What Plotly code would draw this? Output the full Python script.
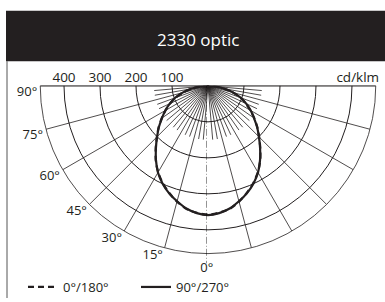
import plotly.graph_objects as go

# ---- data ----
gamma = [0, 5, 10, 15, 20, 25, 30, 35, 40, 45, 50, 55, 60, 65, 70, 75, 80, 85, 90]
c90_270 = [359, 355, 346, 332, 317, 299, 278, 252, 225, 200, 178, 156, 137, 117, 97, 73, 47, 23, 0]
c0_180 = [358, 354, 347, 333, 316, 298, 277, 253, 226, 201, 179, 157, 136, 116, 96, 72, 46, 23, 0]
ring_values = [100, 200, 300, 400]
ring_labels = ["100", "200", "300", "400"]
angle_ticks = [-90, -75, -60, -45, -30, -15, 0]
angle_labels = ["90°", "75°", "60°", "45°", "30°", "15°", "0°"]
title_text = "2330 optic"
unit_text = "cd/klm"

W, H = 385, 302
INK = "#231f20"
FONT = "Open Sans"
R_MAX = 466          # outer ring of the diagram
R_MAX2 = 500         # range of the overlay used for outside labels
PX_PER = 170 / R_MAX
CX, CY = 208, 87     # centre in pixels


def full(vals):
    th = [-g for g in reversed(gamma)] + gamma[1:]
    rr = list(reversed(vals)) + vals[1:]
    return th, rr


fig = go.Figure()

# spokes: 15 deg to the outer ring, 5 deg near the centre
sp_t, sp_r = [], []
for a in range(-90, 91, 5):
    if a == 0:
        continue
    sp_t += [a, a, None]
    sp_r += [0, R_MAX if a % 15 == 0 else 150, None]
fig.add_trace(go.Scatterpolar(theta=sp_t, r=sp_r, mode="lines",
                              line=dict(color=INK, width=0.8),
                              showlegend=False, hoverinfo="skip"))

# dash-dot centre axis (on overlay so it can pass the outer ring)
fig.add_trace(go.Scatterpolar(theta=[180, 0, 0], r=[14, 0, 493], mode="lines", subplot="polar2",
                              line=dict(color="#000000", width=0.9, dash="7px,2px,1px,2px"),
                              showlegend=False, hoverinfo="skip", cliponaxis=False))

th, rr = full(c0_180)
fig.add_trace(go.Scatterpolar(theta=th, r=rr, mode="lines", name="0°/180°",
                              line=dict(color=INK, width=2.2, dash="6px,4px", shape="spline", smoothing=0.6)))
th, rr = full(c90_270)
fig.add_trace(go.Scatterpolar(theta=th, r=rr, mode="lines", name="90°/270°",
                              line=dict(color=INK, width=2.2, shape="spline", smoothing=0.6)))

# ring labels
fig.add_trace(go.Scatterpolar(theta=[-90] * len(ring_values), r=ring_values, mode="text",
                              text=ring_labels, textposition="top center",
                              textfont=dict(family=FONT, size=13.5, color=INK),
                              showlegend=False, hoverinfo="skip", cliponaxis=False))
# unit label
fig.add_trace(go.Scatterpolar(theta=[90], r=[416], mode="text", text=[unit_text],
                              textposition="top center",
                              textfont=dict(family=FONT, size=13.5, color=INK),
                              showlegend=False, hoverinfo="skip", cliponaxis=False))
# angle labels (overlay subplot with larger range)
lab_r = [490 if a == 0 else 471 for a in angle_ticks]
lab_pos = ["bottom center" if a == 0 else "bottom left" for a in angle_ticks]
fig.add_trace(go.Scatterpolar(theta=angle_ticks, r=lab_r, mode="text", text=angle_labels,
                              textposition=lab_pos, subplot="polar2",
                              textfont=dict(family=FONT, size=13, color=INK),
                              showlegend=False, hoverinfo="skip", cliponaxis=False))

R1 = R_MAX * PX_PER
R2 = R_MAX2 * PX_PER

fig.update_layout(
    width=W, height=H,
    margin=dict(l=0, r=0, t=0, b=0),
    paper_bgcolor="white",
    font=dict(family=FONT, size=13, color=INK),
    polar=dict(
        domain=dict(x=[(CX - R1) / W, (CX + R1) / W], y=[1 - (CY + R1) / H, 1 - CY / H]),
        sector=[180, 360],
        bgcolor="white",
        radialaxis=dict(range=[0, R_MAX], tickvals=ring_values, showticklabels=False,
                        ticks="", showline=False, gridcolor=INK, gridwidth=0.8),
        angularaxis=dict(rotation=-90, direction="counterclockwise", showgrid=False,
                         showticklabels=False, ticks="",
                         showline=True, linecolor=INK, linewidth=0.8),
    ),
    polar2=dict(
        domain=dict(x=[(CX - R2) / W, CX / W], y=[1 - (CY + R2) / H, 1 - CY / H]),
        sector=[180, 270],
        bgcolor="rgba(0,0,0,0)",
        radialaxis=dict(range=[0, R_MAX2], visible=False, showgrid=False),
        angularaxis=dict(rotation=-90, direction="counterclockwise", visible=False,
                         showgrid=False, showline=False),
    ),
    showlegend=True,
    legend=dict(orientation="h", x=28 / W - 0.013, y=-0.015, xanchor="left", yanchor="bottom",
                font=dict(family=FONT, size=13, color=INK), bgcolor="rgba(0,0,0,0)",
                itemwidth=30, entrywidth=68, entrywidthmode="pixels"),
    shapes=[
        dict(type="rect", xref="paper", yref="paper", x0=6 / W, x1=1, y0=1 - 62 / H, y1=1 - 11 / H,
             fillcolor=INK, line=dict(width=0), layer="below"),
        dict(type="line", xref="paper", yref="paper", x0=7 / W, x1=7 / W, y0=0, y1=1 - 62 / H,
             line=dict(color="#555555", width=1)),
    ],
    annotations=[
        dict(text=title_text, xref="paper", yref="paper", x=198 / W, y=1 - 40 / H,
             showarrow=False, font=dict(family=FONT, size=17, color="white"),
             xanchor="center", yanchor="middle"),
    ],
)

fig.write_html("out.html", config={"displayModeBar": False},
               post_script="document.body.style.margin='0';")
